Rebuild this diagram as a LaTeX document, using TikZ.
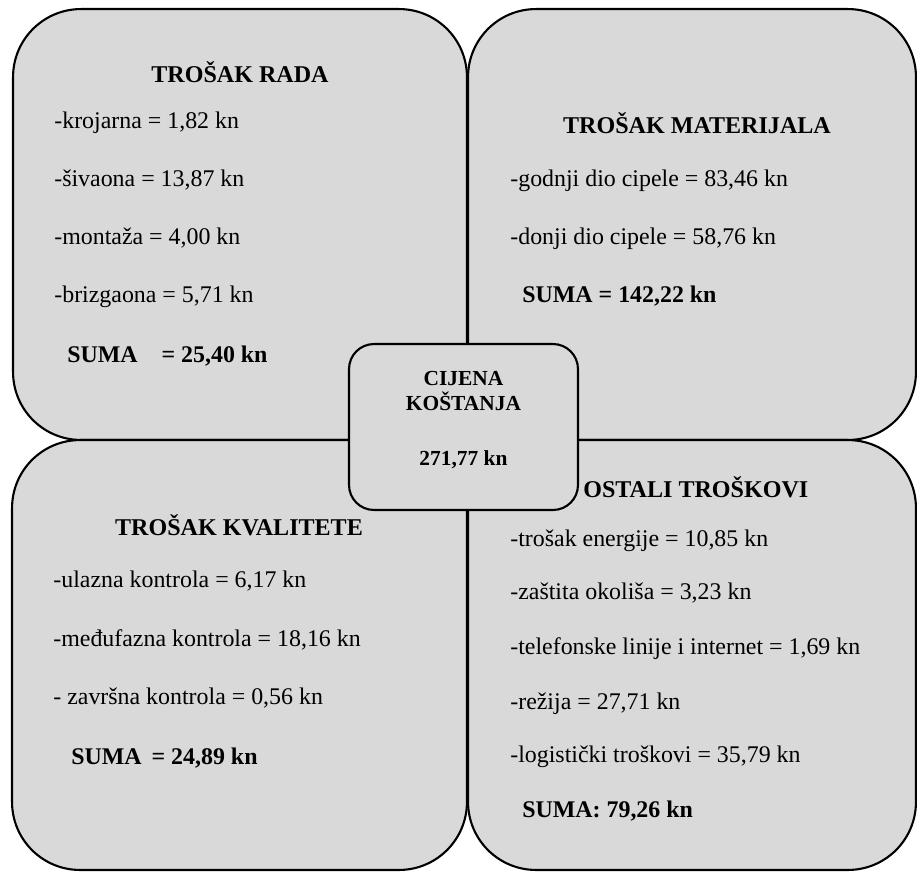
\documentclass[tikz,border=0pt]{standalone}
\usepackage{fontspec}
\setmainfont{Liberation Serif}
\usetikzlibrary{positioning,calc}
\definecolor{siva}{HTML}{D9D9D9}
\tikzset{kvad/.style={draw=black, fill=siva, line width=1.2pt, rounded corners=1.36cm, inner sep=0pt}}
\tikzset{sred/.style={draw=black, fill=siva, line width=1.2pt, rounded corners=0.5cm, inner sep=0pt, minimum width=4.58cm, minimum height=3.32cm}}
\tikzset{stavka/.style={anchor=mid west, inner sep=0pt, font=\fontsize{13.6}{16}\selectfont}}
\tikzset{suma/.style={stavka, font=\fontsize{13.6}{16}\selectfont\bfseries}}
\tikzset{naslov/.style={inner sep=0pt, font=\fontsize{13.7}{16}\selectfont\bfseries}}

\begin{document}
\begin{tikzpicture}[x=0.02cm, y=-0.02cm]
                        \useasboundingbox (0,0) rectangle (917,873);
                        % cetiri kvadranta
                        \node[kvad, minimum width=9.08cm, minimum height=8.62cm] (rad) at (240, 224.5) {};
                        \node[kvad, minimum width=8.96cm, minimum height=8.62cm] (mat) at (692, 224.5) {};
                        \node[kvad, minimum width=9.1cm, minimum height=8.6cm] (kval) at (239.5, 655) {};
                        \node[kvad, minimum width=8.96cm, minimum height=8.6cm] (ost) at (692, 655) {};
                        \node[sred] (cij) at (463.5, 427) {};

                        \node[naslov] (radN) at (240, 72) {TROŠAK RADA};
                        \node[stavka] (rad1) at (54, 124) {-krojarna = 1,82 kn};
                        \node[stavka] (rad2) at (54, 182) {-šivaona = 13,87 kn};
                        \node[stavka] (rad3) at (54, 240) {-montaža = 4,00 kn};
                        \node[stavka] (rad4) at (54, 298) {-brizgaona = 5,71 kn};
                        \node[suma] (radS) at (67, 358) {SUMA\hspace{1em}= 25,40 kn};

                        \node[naslov] (matN) at (697, 123) {TROŠAK MATERIJALA};
                        \node[stavka] (mat1) at (510, 182) {-godnji dio cipele = 83,46 kn};
                        \node[stavka] (mat2) at (510, 240) {-donji dio cipele = 58,76 kn};
                        \node[suma] (matS) at (522, 298) {SUMA = 142,22 kn};

                        \node[naslov] (kvalN) at (239, 525) {TROŠAK KVALITETE};
                        \node[stavka] (kval1) at (53, 583) {-ulazna kontrola = 6,17 kn};
                        \node[stavka] (kval2) at (53, 642) {-međufazna kontrola = 18,16 kn};
                        \node[stavka] (kval3) at (53, 700) {- završna kontrola = 0,56 kn};
                        \node[suma] (kvalS) at (71, 760) {SUMA \,= 24,89 kn};

                        \node[naslov, anchor=west] (ostN) at (583, 487) {OSTALI TROŠKOVI};
                        \node[stavka] (ost1) at (510, 542) {-trošak energije = 10,85 kn};
                        \node[stavka] (ost2) at (510, 595) {-zaštita okoliša = 3,23 kn};
                        \node[stavka] (ost3) at (510, 650) {-telefonske linije i internet = 1,69 kn};
                        \node[stavka] (ost4) at (510, 705) {-režija = 27,71 kn};
                        \node[stavka] (ost5) at (510, 758) {-logistički troškovi = 35,79 kn};
                        \node[suma] (ostS) at (522, 813) {SUMA: 79,26 kn};

                        \node[naslov, align=center, font=\fontsize{12.2}{14}\selectfont\bfseries] (cijN) at (463.5, 391) {CIJENA\\KOŠTANJA};
                        \node[naslov, font=\fontsize{12.2}{14}\selectfont\bfseries] (cijI) at (463.5, 460) {271,77 kn};
                    \end{tikzpicture}
\end{document}
